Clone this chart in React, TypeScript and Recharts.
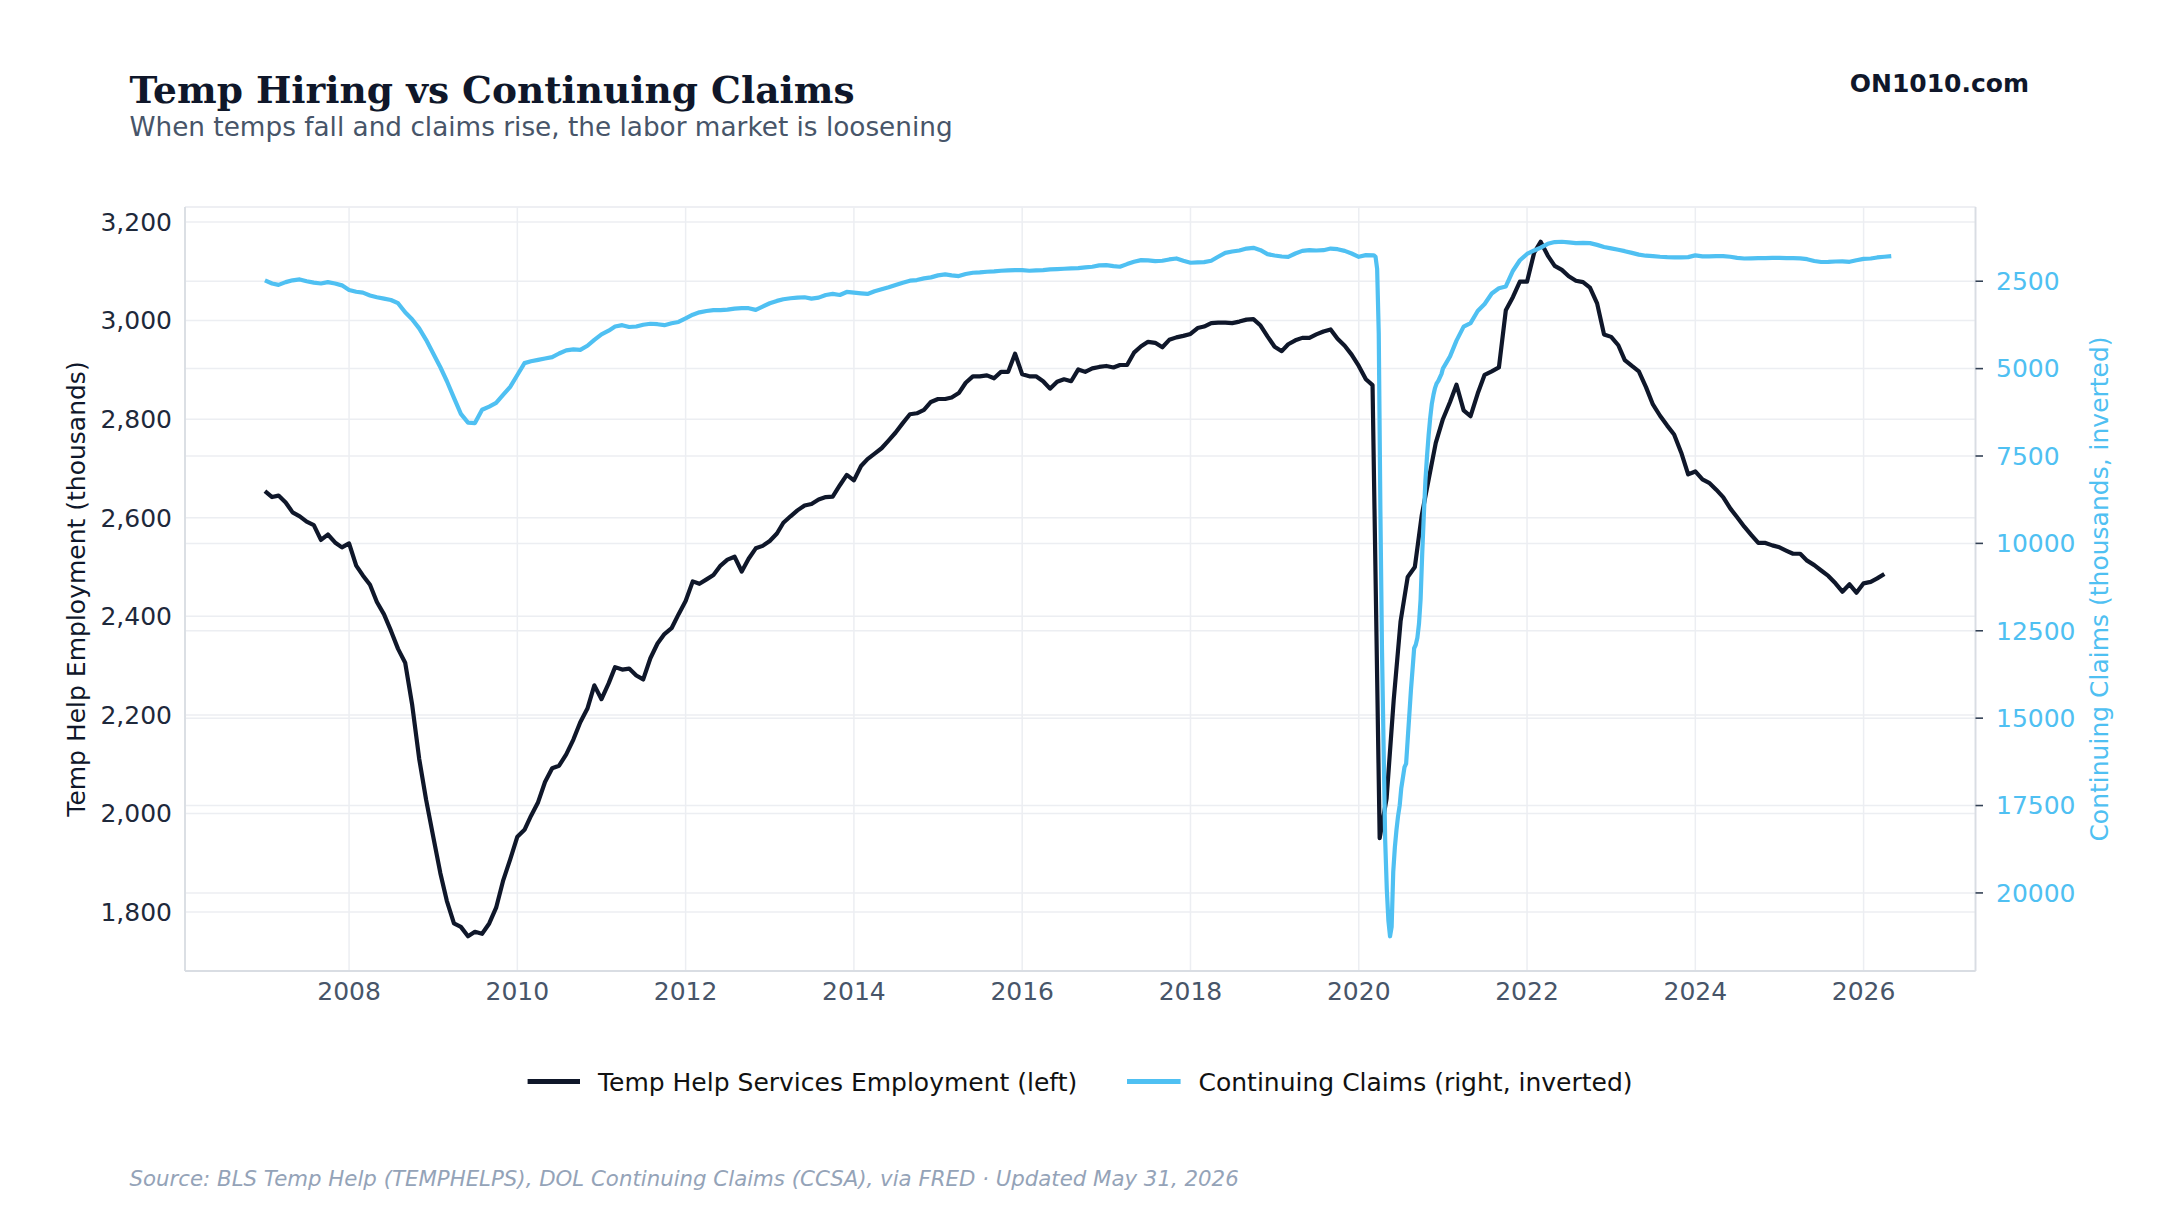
import React from "react";
import { LineChart, Line, XAxis, YAxis, CartesianGrid } from "recharts";

// Temp help services employment, thousands, monthly from Jan 2007
const TEMP_START = "2007-01";
const tempHelp = [
  2654, 2642, 2645, 2631, 2611, 2603, 2592, 2585, 2555, 2566, 2550, 2540,
  2548, 2503, 2483, 2464, 2429, 2404, 2371, 2334, 2306, 2222, 2111, 2028,
  1953, 1879, 1823, 1777, 1770, 1751, 1760, 1756, 1777, 1809, 1865, 1907,
  1953, 1967, 1995, 2023, 2064, 2092, 2097, 2120, 2150, 2185, 2213, 2260,
  2232, 2264, 2297, 2292, 2294, 2280, 2272, 2315, 2345, 2364, 2376, 2404,
  2431, 2471, 2466, 2475, 2484, 2503, 2515, 2521, 2491, 2517, 2538, 2543,
  2553, 2568, 2590, 2603, 2615, 2625, 2628, 2637, 2642, 2643, 2666, 2687,
  2676, 2705, 2719, 2730, 2741, 2757, 2773, 2792, 2810, 2812, 2819, 2835,
  2841, 2841, 2844, 2853, 2874, 2887, 2887, 2889, 2883, 2896, 2896, 2933,
  2891, 2887, 2887, 2877, 2862, 2876, 2881, 2877, 2901, 2896, 2903, 2906,
  2908, 2905, 2910, 2910, 2935, 2948, 2957, 2955, 2946, 2961, 2966, 2969,
  2973, 2985, 2988, 2995, 2996, 2996, 2995, 2998, 3002, 3003, 2990, 2968,
  2947, 2938, 2952, 2960, 2965, 2965, 2972, 2978, 2982, 2963, 2949, 2931,
  2908, 2881, 2869, 1950, 2030, 2230, 2390, 2480, 2500, 2605, 2680, 2752,
  2800, 2835, 2870, 2818, 2806, 2852, 2890, 2897, 2905, 3021, 3048, 3079,
  3079, 3138, 3160, 3132, 3111, 3103, 3090, 3081, 3078, 3067, 3035, 2972,
  2967, 2950, 2920, 2908, 2897, 2865, 2830, 2807, 2787, 2769, 2732, 2688,
  2694, 2678, 2671, 2657, 2642, 2619, 2601, 2582, 2565, 2549, 2549, 2544,
  2540, 2533, 2527, 2527, 2513, 2504, 2493, 2482, 2467, 2450, 2465, 2448,
  2467, 2470, 2477, 2486,
];

// Continuing claims, thousands: monthly Jan 2007 - Feb 2020
const CLAIMS_EARLY_START = "2007-01";
const claimsMonthlyEarly = [
  2474, 2565, 2605, 2526, 2474, 2448, 2500, 2540, 2565, 2526, 2565, 2618,
  2749, 2801, 2827, 2906, 2958, 2997, 3037, 3128, 3390, 3586, 3848, 4176,
  4568, 4961, 5354, 5838, 6296, 6545, 6558, 6178, 6087, 5982, 5746, 5524,
  5183, 4843, 4791, 4751, 4712, 4673, 4568, 4477, 4450, 4464, 4346, 4176,
  4018, 3914, 3796, 3757, 3809, 3796, 3744, 3717, 3730, 3757, 3704, 3665,
  3560, 3456, 3390, 3351, 3325, 3325, 3312, 3282, 3272, 3272, 3320, 3225,
  3130, 3063, 3016, 2988, 2969, 2959, 2997, 2969, 2893, 2864, 2893, 2807,
  2826, 2845, 2864, 2788, 2731, 2675, 2608, 2542, 2485, 2466, 2418, 2390,
  2333, 2304, 2333, 2352, 2295, 2257, 2248, 2229, 2219, 2200, 2191, 2181,
  2181, 2200, 2191, 2181, 2162, 2153, 2143, 2134, 2124, 2105, 2086, 2048,
  2039, 2067, 2086, 2010, 1944, 1896, 1906, 1925, 1915, 1877, 1849, 1915,
  1972, 1963, 1953, 1915, 1801, 1688, 1650, 1621, 1565, 1545, 1612, 1726,
  1763, 1792, 1801, 1707, 1631, 1612, 1621, 1612, 1565, 1584, 1631, 1707,
  1801, 1754,
];

// Continuing claims, weekly through the 2020 surge (week ending Mar 7 - Dec 26)
const CLAIMS_WEEKLY_START = "2020-03-07";
const claimsWeekly2020 = [
  1760, 1800, 2150, 4000, 9000, 13000, 15800, 18500, 19900, 20800, 21240,
  20970, 19400, 18700, 18200, 17800, 17500, 17000, 16700, 16400, 16300,
  15600, 14900, 14200, 13600, 13000, 12900, 12700, 12300, 11600, 10300,
  9200, 8200, 7500, 6900, 6400, 6000, 5750, 5550, 5420, 5350, 5250, 5150,
];

// Continuing claims, monthly Jan 2021 - May 2026
const CLAIMS_LATE_START = "2021-01";
const claimsMonthlyLate = [
  5000, 4650, 4200, 3800, 3700, 3350, 3150, 2850, 2700, 2650, 2200, 1900,
  1720, 1620, 1540, 1430, 1380, 1370, 1390, 1410, 1405, 1410, 1460, 1520,
  1560, 1600, 1640, 1690, 1740, 1770, 1780, 1800, 1810, 1815, 1815, 1810,
  1760, 1790, 1790, 1780, 1780, 1800, 1830, 1850, 1845, 1840, 1840, 1830,
  1830, 1840, 1840, 1845, 1870, 1920, 1950, 1945, 1935, 1930, 1945, 1900,
  1860, 1850, 1820, 1800, 1780,
];

const yearTicks = [2008, 2010, 2012, 2014, 2016, 2018, 2020, 2022, 2024, 2026];
const tempTicks = [1800, 2000, 2200, 2400, 2600, 2800, 3000, 3200];
const claimsTicks = [2500, 5000, 7500, 10000, 12500, 15000, 17500, 20000];

const NAVY = "#0f172a";
const SKY = "#4fc0f2";
const GRID = "#eceef2";
const SPINE = "#d9dde3";

function yearFrac(y: number, m: number, d: number): number {
  const start = Date.UTC(y, 0, 1);
  const end = Date.UTC(y + 1, 0, 1);
  return y + (Date.UTC(y, m - 1, d) - start) / (end - start);
}

function monthly(start: string, values: number[]) {
  const [y, m] = start.split("-").map(Number);
  return values.map((v, i) => {
    const mm = m - 1 + i;
    return { t: yearFrac(y + Math.floor(mm / 12), (mm % 12) + 1, 1), v };
  });
}

function weekly(start: string, values: number[]) {
  const [y, m, d] = start.split("-").map(Number);
  const base = Date.UTC(y, m - 1, d);
  return values.map((v, i) => {
    const dt = new Date(base + i * 7 * 86400000);
    return {
      t: yearFrac(dt.getUTCFullYear(), dt.getUTCMonth() + 1, dt.getUTCDate()),
      v,
    };
  });
}

const tempSeries = monthly(TEMP_START, tempHelp);
const claimsSeries = [
  ...monthly(CLAIMS_EARLY_START, claimsMonthlyEarly),
  ...weekly(CLAIMS_WEEKLY_START, claimsWeekly2020),
  ...monthly(CLAIMS_LATE_START, claimsMonthlyLate),
];

const W = 2160;
const H = 1215;
const PLOT_TOP = 207;
const PLOT_BOTTOM = 971;
const X_AXIS_H = 40;

export default function App() {
  return (
    <div
      style={{
        position: "relative",
        width: W,
        height: H,
        background: "#ffffff",
        fontFamily: "'DejaVu Sans', sans-serif",
      }}
    >
      <style>{"body{margin:0;}"}</style>
      <LineChart
        width={W}
        height={H}
        margin={{ top: PLOT_TOP, right: 0, bottom: H - PLOT_BOTTOM - X_AXIS_H, left: 0 }}
      >
        <CartesianGrid
          xAxisId="x"
          yAxisId="right"
          vertical={false}
          stroke={GRID}
          strokeWidth={1.5}
        />
        <CartesianGrid
          xAxisId="x"
          yAxisId="left"
          stroke={GRID}
          strokeWidth={1.5}
        />
        <XAxis
          xAxisId="x"
          dataKey="t"
          type="number"
          domain={[2006.05, 2027.33]}
          allowDataOverflow
          ticks={yearTicks}
          interval={0}
          height={X_AXIS_H}
          tickLine={false}
          tickSize={4}
          tickMargin={7}
          axisLine={{ stroke: SPINE, strokeWidth: 1.8 }}
          tick={{ fill: "#475569", fontSize: 25 }}
        />
        <YAxis
          yAxisId="left"
          orientation="left"
          type="number"
          width={185}
          domain={[1680.5, 3230.5]}
          allowDataOverflow
          ticks={tempTicks}
          interval={0}
          tickFormatter={(v: number) => v.toLocaleString("en-US")}
          tickLine={false}
          tickSize={5}
          tickMargin={8}
          axisLine={{ stroke: SPINE, strokeWidth: 1.8 }}
          tick={{ fill: "#1e293b", fontSize: 25 }}
        />
        <YAxis
          yAxisId="right"
          orientation="right"
          type="number"
          width={184.5}
          reversed
          domain={[376.5, 22233.5]}
          allowDataOverflow
          ticks={claimsTicks}
          interval={0}
          tickLine={{ stroke: "#334155", strokeWidth: 1.6 }}
          tickSize={7.5}
          tickMargin={13}
          axisLine={{ stroke: SPINE, strokeWidth: 1.8 }}
          tick={{ fill: SKY, fontSize: 25 }}
        />
        <Line
          xAxisId="x"
          yAxisId="left"
          data={tempSeries}
          dataKey="v"
          name="Temp Help Services Employment (left)"
          type="linear"
          stroke={NAVY}
          strokeWidth={4.2}
          strokeLinejoin="round"
          dot={false}
          activeDot={false}
          isAnimationActive={false}
        />
        <Line
          xAxisId="x"
          yAxisId="right"
          data={claimsSeries}
          dataKey="v"
          name="Continuing Claims (right, inverted)"
          type="linear"
          stroke={SKY}
          strokeWidth={4.2}
          strokeLinejoin="round"
          dot={false}
          activeDot={false}
          isAnimationActive={false}
        />
      </LineChart>

      <svg
        width={W}
        height={H}
        style={{ position: "absolute", left: 0, top: 0, pointerEvents: "none" }}
      >
        <text
          x={129.5}
          y={103}
          fontFamily="'DejaVu Serif', serif"
          fontWeight="bold"
          fontSize={37.5}
          fill={NAVY}
        >
          Temp Hiring vs Continuing Claims
        </text>
        <text x={129.5} y={135.5} fontSize={26.3} fill="#475569">
          When temps fall and claims rise, the labor market is loosening
        </text>
        <text x={2029} y={92} textAnchor="end" fontWeight="bold" fontSize={25} fill={NAVY}>
          ON1010.com
        </text>

        <text
          transform="translate(76,589) rotate(-90)"
          textAnchor="middle"
          dominantBaseline="central"
          fontSize={25}
          fill={NAVY}
        >
          Temp Help Employment (thousands)
        </text>
        <text
          transform="translate(2099,589) rotate(-90)"
          textAnchor="middle"
          dominantBaseline="central"
          fontSize={25}
          fill={SKY}
        >
          Continuing Claims (thousands, inverted)
        </text>

        <line x1={527.6} y1={1081.5} x2={580} y2={1081.5} stroke={NAVY} strokeWidth={5} />
        <text x={598} y={1090.5} fontSize={25} fill="#111111">
          Temp Help Services Employment (left)
        </text>
        <line x1={1127} y1={1081.5} x2={1180.6} y2={1081.5} stroke={SKY} strokeWidth={5} />
        <text x={1198.5} y={1090.5} fontSize={25} fill="#111111">
          Continuing Claims (right, inverted)
        </text>

        <text x={129.5} y={1186} fontSize={21.3} fontStyle="italic" fill="#94a3b8">
          Source: BLS Temp Help (TEMPHELPS), DOL Continuing Claims (CCSA), via FRED · Updated May 31, 2026
        </text>
      </svg>
    </div>
  );
}
